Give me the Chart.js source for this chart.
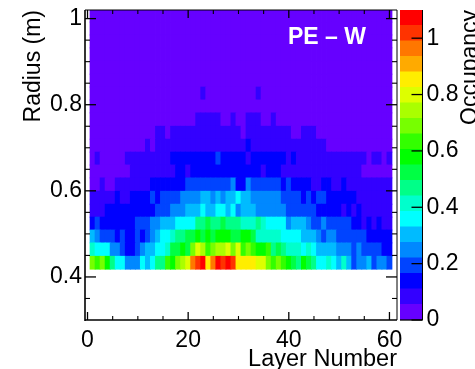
<!DOCTYPE html>
<html>
<head>
<meta charset="utf-8">
<style>
html,body{margin:0;padding:0;background:#fff;width:475px;height:369px;overflow:hidden}
canvas{position:absolute;left:0;top:0}
</style>
<script src="https://cdn.jsdelivr.net/npm/chart.js@4"></script>
</head>
<body>
<canvas id="map" width="475" height="369"></canvas>
<canvas id="bar" width="475" height="369"></canvas>
<script>
const layers = [1,2,3,4,5,6,7,8,9,10,11,12,13,14,15,16,17,18,19,20,21,22,23,24,25,26,27,28,29,30,31,32,33,34,35,36,37,38,39,40,41,42,43,44,45,46,47,48,49,50,51,52,53,54,55,56,57,58,59,60];
const radiusEdges = [0.418,0.448,0.479,0.509,0.539,0.569,0.599,0.630,0.660,0.690,0.720,0.750,0.781,0.811,0.841,0.871,0.901,0.932,0.962,0.992,1.022];
const r0 = [.69,.63,.69,.58,.47,.36,.36,.25,.25,.25,.36,.30,.36,.47,.47,.63,.58,.69,.74,.80,.96,1.02,1.07,.85,.96,1.07,1.02,1.07,1.02,.85,.85,.85,.85,.80,.80,.69,.63,.69,.63,.58,.52,.47,.58,.52,.47,.36,.36,.41,.36,.30,.41,.30,.19,.25,.25,.30,.19,.25,.25,.19];
const r1 = [.41,.36,.36,.36,.25,.25,.19,.14,.14,.19,.25,.30,.30,.36,.36,.41,.52,.52,.58,.52,.69,.80,.74,.63,.69,.74,.74,.80,.69,.80,.63,.69,.63,.58,.58,.63,.47,.52,.47,.41,.41,.41,.36,.41,.36,.30,.30,.30,.30,.25,.25,.25,.19,.25,.19,.19,.19,.19,.14,.14];
const r2 = [.30,.25,.19,.19,.19,.14,.19,.14,.14,.19,.14,.19,.25,.30,.36,.36,.41,.47,.47,.52,.52,.58,.52,.58,.52,.58,.58,.58,.52,.52,.58,.58,.52,.41,.41,.41,.41,.41,.36,.36,.36,.36,.30,.30,.30,.25,.19,.25,.25,.19,.19,.19,.19,.19,.19,.14,.14,.14,.14,.14];
const r3 = [.14,.19,.14,.14,.14,.14,.14,.14,.14,.19,.19,.19,.25,.25,.30,.30,.30,.36,.36,.36,.36,.47,.47,.52,.47,.47,.52,.47,.47,.47,.41,.41,.41,.47,.41,.36,.36,.36,.36,.25,.30,.30,.30,.25,.19,.19,.25,.19,.19,.19,.19,.19,.14,.14,.08,.14,.08,.14,.08,.08];
const r4 = [.08,.08,.08,.14,.14,.14,.14,.14,.14,.14,.14,.14,.14,.19,.19,.19,.25,.25,.25,.30,.30,.30,.36,.30,.30,.36,.36,.30,.36,.25,.30,.30,.30,.25,.25,.25,.25,.25,.25,.19,.19,.19,.19,.19,.19,.14,.14,.14,.14,.14,.08,.14,.08,.14,.08,.08,.08,.08,.08,.08];
const r5 = [.08,.08,.08,.08,.08,.14,.08,.08,.14,.14,.14,.14,.19,.14,.19,.19,.19,.19,.25,.25,.25,.25,.30,.30,.25,.30,.25,.30,.30,.36,.30,.30,.25,.25,.25,.25,.25,.25,.19,.19,.19,.19,.14,.19,.14,.19,.19,.14,.14,.14,.14,.14,.14,.08,.08,.08,.08,.08,.08,.08];
const r6 = [.03,.03,.08,.03,.03,.08,.08,.08,.08,.08,.08,.08,.14,.14,.14,.14,.14,.14,.14,.19,.19,.19,.19,.19,.19,.19,.19,.19,.25,.14,.14,.25,.19,.19,.19,.19,.19,.19,.14,.19,.14,.14,.14,.14,.08,.08,.14,.14,.08,.08,.14,.08,.08,.08,.08,.08,.08,.08,.08,.08];
const r7 = [.03,.03,.03,.03,.03,.03,.03,.03,.08,.08,.08,.08,.08,.08,.08,.08,.08,.14,.14,.08,.14,.14,.14,.14,.14,.14,.14,.14,.14,.14,.14,.14,.14,.14,.08,.14,.14,.14,.08,.08,.08,.08,.08,.08,.08,.08,.08,.08,.08,.08,.08,.08,.08,.08,.03,.03,.03,.03,.03,.03];
const r8 = [.03,.08,.03,.03,.03,.03,.03,.08,.08,.08,.08,.08,.08,.08,.08,.08,.14,.14,.14,.14,.14,.14,.14,.14,.14,.19,.14,.14,.14,.14,.14,.08,.14,.14,.14,.14,.14,.14,.14,.08,.14,.08,.08,.08,.08,.08,.08,.08,.08,.08,.08,.08,.08,.08,.08,.03,.08,.08,.03,.08];
const r9 = [.03,.03,.03,.03,.03,.03,.03,.03,.03,.03,.03,.08,.03,.08,.08,.08,.08,.08,.08,.08,.08,.08,.08,.08,.08,.08,.08,.08,.08,.08,.08,.14,.08,.08,.08,.08,.08,.08,.08,.08,.08,.08,.08,.08,.08,.08,.08,.03,.03,.03,.03,.03,.03,.03,.03,.03,.03,.03,.03,.03];
const r10 = [.03,.03,.03,.03,.03,.03,.03,.03,.03,.03,.03,.03,.03,.08,.08,.03,.08,.08,.08,.08,.08,.08,.08,.08,.08,.08,.08,.08,.08,.08,.03,.08,.08,.08,.08,.08,.08,.08,.08,.08,.03,.03,.08,.08,.08,.03,.03,.03,.03,.03,.03,.03,.03,.03,.03,.03,.03,.03,.03,.03];
const r11 = [.03,.03,.03,.03,.03,.03,.03,.03,.03,.03,.03,.03,.03,.03,.03,.03,.03,.03,.03,.03,.03,.08,.08,.08,.08,.08,.03,.03,.08,.03,.03,.08,.08,.08,.03,.03,.08,.03,.03,.03,.03,.03,.03,.03,.03,.03,.03,.03,.03,.03,.03,.03,.03,.03,.03,.03,.03,.03,.03,.03];
const r12 = [.03,.03,.03,.03,.03,.03,.03,.03,.03,.03,.03,.03,.03,.03,.03,.03,.03,.03,.03,.03,.03,.03,.03,.03,.03,.03,.03,.03,.03,.03,.03,.03,.03,.03,.03,.03,.03,.03,.03,.03,.03,.03,.03,.03,.03,.03,.03,.03,.03,.03,.03,.03,.03,.03,.03,.03,.03,.03,.03,.03];
const r13 = [.03,.03,.03,.03,.03,.03,.03,.03,.03,.03,.03,.03,.03,.03,.03,.03,.03,.03,.03,.03,.03,.03,.08,.03,.03,.03,.03,.03,.03,.03,.03,.03,.03,.08,.03,.03,.03,.03,.03,.03,.03,.03,.03,.03,.03,.03,.03,.03,.03,.03,.03,.03,.03,.03,.03,.03,.03,.03,.03,.03];
const occupancyRows = [r0,r1,r2,r3,r4,r5,r6,r7,r8,r9,r10,r11,r12,r13,r12,r12,r12,r12,r12,r12];
const palette = ['#6600ff','#3300ff','#0000ff','#0044ff','#0088ff','#00bbff','#00ffff','#00ffcc','#00ff88','#00ff44','#00ff00','#33ff00','#77ff00','#aaff00','#ddff00','#ffee00','#ffaa00','#ff7700','#ff3300','#ff0000'];
const levelEdges = [0,.055,.11,.165,.22,.275,.33,.385,.44,.495,.55,.605,.66,.715,.77,.825,.88,.935,.99,1.045,1.1];
const xTickValues = [0,20,40,60];
const xMinorTicks = [5,10,15,25,30,35,45,50,55];
const yTickValues = [0.4,0.6,0.8,1];
const yMinorTicks = [0.35,0.45,0.5,0.55,0.65,0.7,0.75,0.85,0.9,0.95];
const zTickValues = [0,0.2,0.4,0.6,0.8,1];

const FONT = 'Liberation Sans, Arial, sans-serif';
function colorFor(v){
  let i = 0;
  while (i < palette.length-1 && v >= levelEdges[i+1]) i++;
  return palette[i];
}
function fmt(v){ return String(Math.round(v*10)/10); }
function noPad(s){ s.paddingTop=0; s.paddingBottom=0; s.paddingLeft=0; s.paddingRight=0; }

const frame = {
  id:'frame',
  afterDatasetsDraw(c){
    const {ctx,chartArea:a,scales:{x,y}} = c;
    ctx.save();
    ctx.strokeStyle='#000';
    const line=(x1,y1,x2,y2,w)=>{ctx.lineWidth=w;ctx.beginPath();ctx.moveTo(x1,y1);ctx.lineTo(x2,y2);ctx.stroke();};
    xTickValues.forEach(v=>{const p=x.getPixelForValue(v);line(p,a.bottom,p,a.bottom-8,1.3);line(p,a.top,p,a.top+8,1.3);});
    xMinorTicks.forEach(v=>{const p=x.getPixelForValue(v);line(p,a.bottom,p,a.bottom-4,1.1);line(p,a.top,p,a.top+4,1.1);});
    yTickValues.forEach(v=>{const p=y.getPixelForValue(v);line(a.left,p,a.left+11,p,1.3);line(a.right,p,a.right-11,p,1.3);});
    yMinorTicks.forEach(v=>{const p=y.getPixelForValue(v);line(a.left,p,a.left+5,p,1.1);line(a.right,p,a.right-5,p,1.1);});
    line(a.left,a.top,a.right,a.top,1);
    line(a.right,a.top,a.right,a.bottom,1);
    line(a.left,a.top,a.left,a.bottom+1,1.6);
    line(a.left,a.bottom,a.right,a.bottom,1.6);
    ctx.fillStyle='#fff';
    ctx.font='bold 23px '+FONT;
    ctx.textBaseline='alphabetic';
    ctx.textAlign='left';
    ctx.fillText('PE \u2013 W',288,44);
    ctx.restore();
  }
};

new Chart(document.getElementById('map'),{
  type:'bar',
  data:{datasets:occupancyRows.map((row,r)=>({
    label:'R'+r,
    data:layers.map((l,i)=>({x:l,y:[radiusEdges[r],radiusEdges[r+1]],v:row[i]})),
    backgroundColor:ctx=>colorFor(ctx.raw?ctx.raw.v:0),
    borderWidth:0,
    inflateAmount:0.4,
    barPercentage:1,
    categoryPercentage:1
  }))},
  options:{
    responsive:false,animation:false,events:[],
    layout:{padding:{left:0,top:10,right:78,bottom:0}},
    plugins:{legend:{display:false},tooltip:{enabled:false}},
    scales:{
      x:{type:'linear',stacked:true,offset:false,min:-0.5,max:61.5,
        afterFit(s){s.height=49;noPad(s);},
        grid:{display:false,drawTicks:false,offset:false},border:{display:false},
        ticks:{stepSize:20,includeBounds:false,padding:7,maxRotation:0,color:'#000',font:{family:FONT,size:23},callback:v=>String(v)},
        title:{display:true,text:'Layer Number',align:'end',color:'#000',font:{family:FONT,size:23.5},padding:{top:0,bottom:-5}}
      },
      y:{type:'linear',min:0.3,max:1.02,
        afterFit(s){s.width=85;noPad(s);},
        grid:{display:false,drawTicks:false},border:{display:false},
        ticks:{stepSize:0.2,includeBounds:false,padding:3,color:'#000',font:{family:FONT,size:23},callback:fmt},
        title:{display:true,text:'Radius (m)',align:'end',color:'#000',font:{family:FONT,size:23},padding:{top:20,bottom:0}}
      }
    }
  },
  plugins:[frame]
});

const barFrame = {
  id:'barFrame',
  afterDatasetsDraw(c){
    const {ctx,chartArea:a,scales:{y}} = c;
    ctx.save();
    ctx.strokeStyle='#000';
    const line=(x1,y1,x2,y2,w)=>{ctx.lineWidth=w;ctx.beginPath();ctx.moveTo(x1,y1);ctx.lineTo(x2,y2);ctx.stroke();};
    zTickValues.forEach(v=>{const p=y.getPixelForValue(v);line(a.right,p,a.right-11,p,1.3);});
    line(a.right,a.top,a.right,a.bottom,1);
    line(a.left,a.bottom,a.right,a.bottom,1.3);
    ctx.translate(477,125);
    ctx.rotate(-Math.PI/2);
    ctx.fillStyle='#000';
    ctx.font='23px '+FONT;
    ctx.textAlign='left';
    ctx.textBaseline='alphabetic';
    ctx.fillText('Occupancy',0,0);
    ctx.restore();
  }
};

new Chart(document.getElementById('bar'),{
  type:'bar',
  data:{labels:['z'],datasets:palette.map((col,i)=>({
    label:'L'+i,
    data:[[levelEdges[i],levelEdges[i+1]]],
    backgroundColor:col,
    borderWidth:0,
    inflateAmount:0.4,
    barPercentage:1,
    categoryPercentage:1
  }))},
  options:{
    responsive:false,animation:false,events:[],
    layout:{padding:{left:400,top:10,right:0,bottom:49}},
    plugins:{legend:{display:false},tooltip:{enabled:false}},
    scales:{
      x:{stacked:true,display:false},
      y:{position:'right',min:0,max:1.1,
        afterFit(s){s.width=52.5;noPad(s);},
        grid:{display:false,drawTicks:false},border:{display:false},
        ticks:{stepSize:0.2,includeBounds:false,padding:4,color:'#000',font:{family:FONT,size:23},callback:fmt}
      }
    }
  },
  plugins:[barFrame]
});
</script>
</body>
</html>
